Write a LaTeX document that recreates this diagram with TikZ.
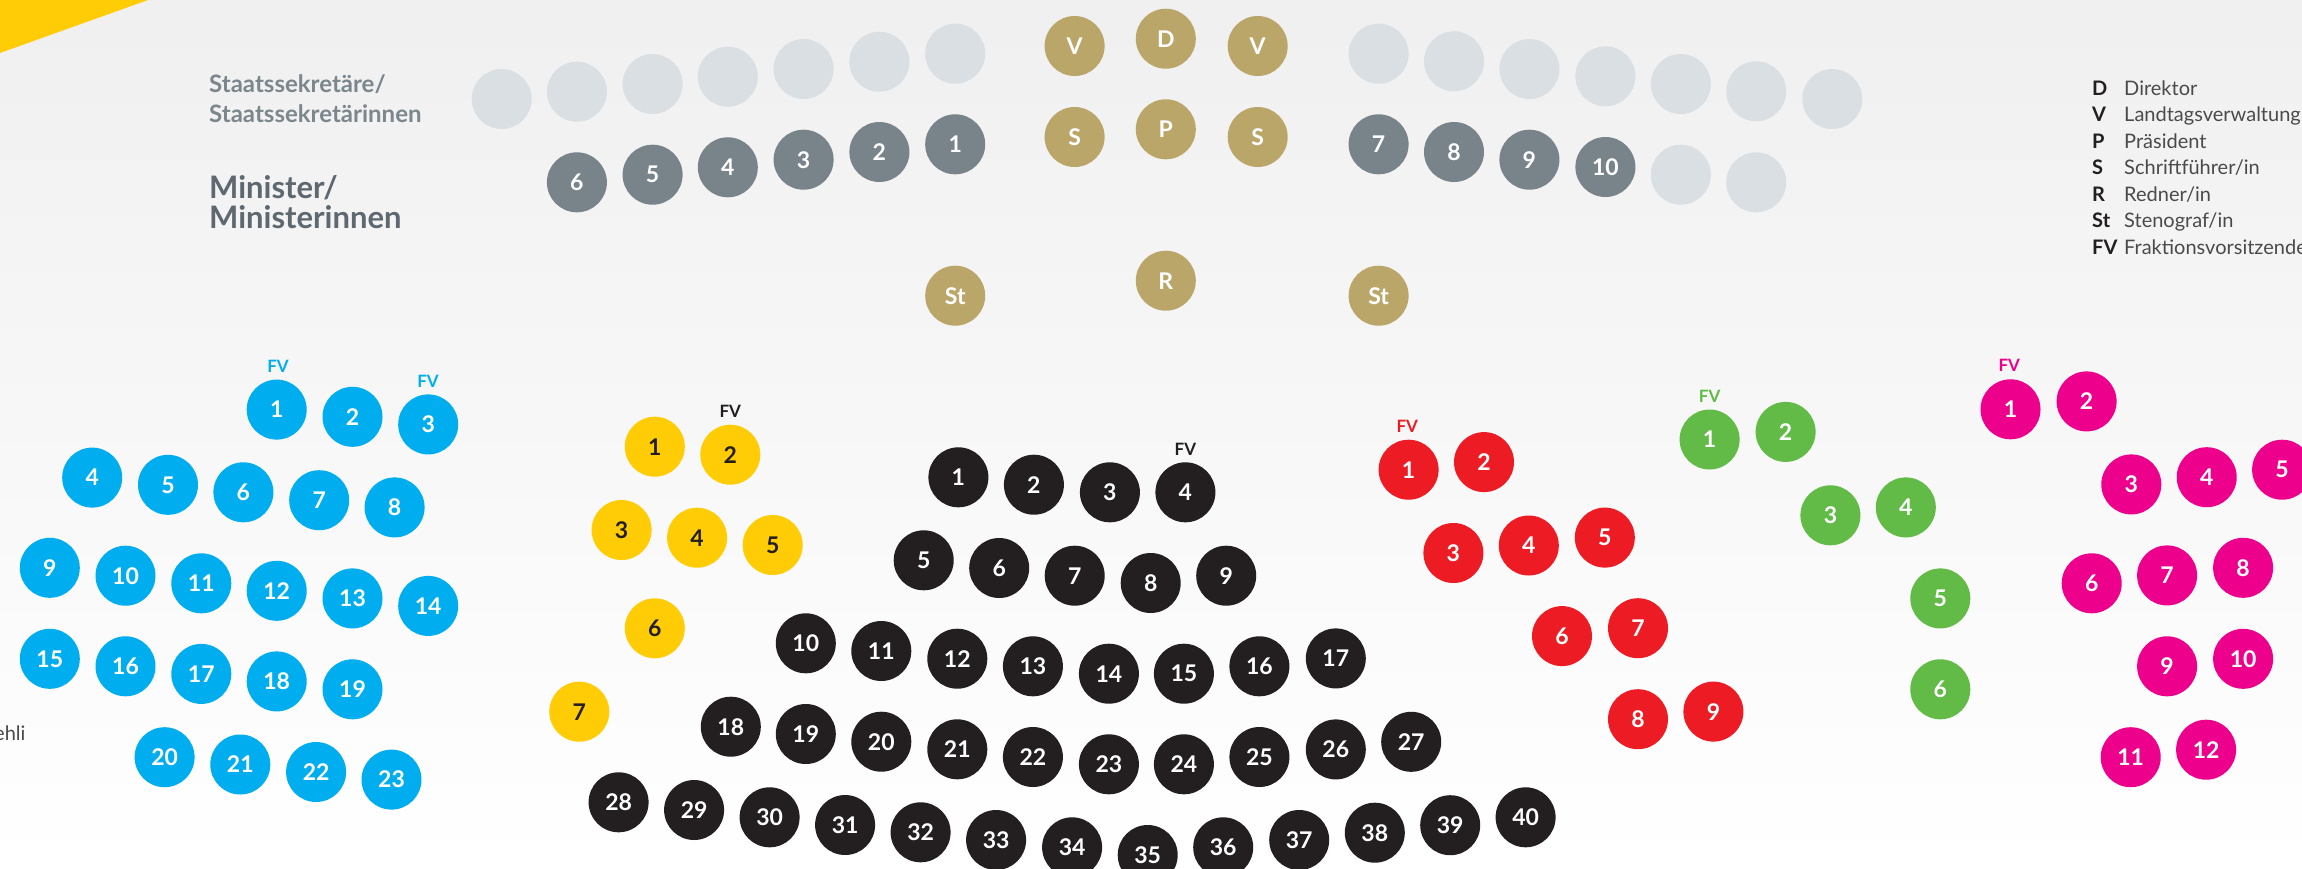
\documentclass[tikz,border=0pt]{standalone}
\usepackage{fontspec}
\setmainfont{Lato}
\definecolor{cblue}{HTML}{00AEEF}
\definecolor{cyel}{HTML}{FFCC05}
\definecolor{cblk}{HTML}{231F20}
\definecolor{cred}{HTML}{ED1C24}
\definecolor{cgrn}{HTML}{62BB46}
\definecolor{cmag}{HTML}{EC008C}
\definecolor{cgold}{HTML}{BBA66A}
\definecolor{cmin}{HTML}{78838A}
\definecolor{cempty}{HTML}{D9DFE2}
\definecolor{labgray}{HTML}{7B868D}
\definecolor{labdark}{HTML}{5D6870}
\definecolor{legtxt}{HTML}{4A4A4A}
\tikzset{
  seat/.style={circle, minimum size=60pt, inner sep=0pt, text=white, font=\bfseries\fontsize{23}{23}\selectfont},
  fvlab/.style={font=\bfseries\fontsize{17}{17}\selectfont, inner sep=0pt},
  legkey/.style={anchor=base west, inner sep=0pt, font=\bfseries\fontsize{20}{20}\selectfont, text=cblk},
  legdesc/.style={anchor=base west, inner sep=0pt, font=\fontsize{20}{20}\selectfont, text=legtxt},
  staatlab/.style={anchor=base west, inner sep=0pt, text=labgray, font=\bfseries\fontsize{24}{24}\selectfont},
  minlab/.style={anchor=base west, inner sep=0pt, text=labdark, font=\bfseries\fontsize{31}{31}\selectfont},
}
\begin{document}
\begin{tikzpicture}[x=1pt,y=-1pt]
\useasboundingbox (0,0) rectangle (2302,868);
\clip (0,0) rectangle (2302,868);
\shade[top color=black!6!white, bottom color=white] (0,0) rectangle (2302,868);
\fill[cyel] (0,0) -- (148,0) -- (0,53) -- cycle;
% labels
\node[staatlab] (lstaat1) at (209,92) {Staatssekretäre/};
\node[staatlab] (lstaat2) at (209,122.5) {Staatssekretärinnen};
\node[minlab] (lmin1) at (209,198) {Minister/};
\node[minlab] (lmin2) at (209,228.5) {Ministerinnen};
\node[anchor=base west, inner sep=0pt, text=legtxt, font=\fontsize{20}{20}\selectfont] (cut) at (-6,740) {ehli};
% top empty row
\foreach \i/\x/\y in {1/501.7/99,2/576.9/91.7,3/652.6/84,4/727.8/76.7,5/803.6/69,6/879.4/61.7,7/955.2/53.7,
  8/1378.6/53.7,9/1454/61.3,10/1529.4/69,11/1605.4/76.3,12/1680.8/84,13/1756.2/91.3,14/1832.3/99,
  15/1680.8/174.7,16/1756.2/182.3}
  \node[seat, fill=cempty] (e\i) at (\x,\y) {};
% ministers
\foreach \n/\x/\y in {6/576.9/182.3,5/652.6/174.7,4/727.8/167.3,3/803.6/159.7,2/879.4/152,1/955.2/144.3,
  7/1378.6/144.3,8/1454/152,9/1529.4/159.7,10/1605.4/167}
  \node[seat, fill=cmin] (mi\n) at (\x,\y) {\n};
% presidium
\node[seat, fill=cgold] (vl) at (1074.6,46) {V};
\node[seat, fill=cgold] (d) at (1165.8,38.7) {D};
\node[seat, fill=cgold] (vr) at (1257.7,46) {V};
\node[seat, fill=cgold] (sl) at (1074.6,137) {S};
\node[seat, fill=cgold] (p) at (1165.8,129.3) {P};
\node[seat, fill=cgold] (sr) at (1257.7,137) {S};
\node[seat, fill=cgold] (stl) at (955.2,295.7) {St};
\node[seat, fill=cgold] (rr) at (1165.8,280.7) {R};
\node[seat, fill=cgold] (str) at (1378.6,295.7) {St};
% legend
\foreach \i/\k/\t in {0/D/Direktor,1/V/Landtagsverwaltung,2/P/Präsident,3/S/Schriftführer\slash in,4/R/Redner\slash in,5/St/Stenograf\slash in,6/FV/Fraktionsvorsitzende}{
  \node[legkey] (lk\i) at (2092,{95+26.5*\i}) {\k};
  \node[legdesc] (ld\i) at (2124,{95+26.5*\i}) {\t};
}
% blue
\foreach \n/\x/\y in {1/276.7/409.6,2/352.5/416.8,3/428.2/424.4,4/92.2/477.6,5/168/484.8,6/243.4/492.3,7/319.2/500.2,8/394.6/507.4,9/49.8/567.8,10/125.5/575.7,11/201.3/583.3,12/276.7/590.8,13/352.5/598.4,14/428.2/605.9,15/49.8/658.8,16/125.5/666.3,17/201.3/673.9,18/276.7/681.4,19/352.5/689.3,20/164.6/757.2,21/240.3/764.5,22/316.1/772,23/391.5/779.6}
  \node[seat, fill=cblue] (b\n) at (\x,\y) {\n};
\node[fvlab, text=cblue] (bfv1) at (278,366) {FV};
\node[fvlab, text=cblue] (bfv3) at (428,381.5) {FV};
% yellow
\foreach \n/\x/\y in {1/654.8/446.7,2/730.3/454.7,3/621.6/530,4/697.1/537.7,5/772.7/545,6/654.8/628.3,7/579.3/711.7}
  \node[seat, fill=cyel, text=cblk] (y\n) at (\x,\y) {\n};
\node[fvlab, text=cblk] (yfv) at (730.3,411.7) {FV};
% black
\foreach \n/\x/\y in {1/958.4/477.3,2/1033.9/484.7,3/1109.9/492.3,4/1185.4/492.3,
  5/923.7/560.3,6/999.2/568,7/1074.7/575.7,8/1150.7/583,9/1226.2/575.7,
  10/805.8/643.3,11/881.3/651,12/957.3/658.7,13/1032.9/666.3,14/1108.9/673.7,15/1183.9/673.7,16/1259.4/666.3,17/1335.8/658.4,
  18/730.8/726.7,19/805.8/734,20/881.3/741.7,21/957.3/749.3,22/1032.9/757,23/1108.9/764.3,24/1183.9/764.3,25/1259.4/757,26/1335.8/749.4,27/1411.2/741.8,
  28/618.6/802.3,29/694.1/810,30/769.6/817.3,31/845.1/825,32/920.6/832.3,33/996.1/840,34/1072.1/847.3,35/1147.7/855,36/1223.2/847.3,37/1299.2/840,38/1374.8/832.7,39/1450.2/825.2,40/1525.6/817.3}
  \node[seat, fill=cblk] (k\n) at (\x,\y) {\n};
\node[fvlab, text=cblk] (kfv) at (1185.4,449.3) {FV};
% red
\foreach \n/\x/\y in {1/1408.6/469.7,2/1484/462.1,3/1453.4/553,4/1528.8/545.5,5/1604.8/537.6,6/1562/636.1,7/1638/628.2,8/1638/719.2,9/1713.4/711.6}
  \node[seat, fill=cred] (r\n) at (\x,\y) {\n};
\node[fvlab, text=cred] (rfv) at (1407.3,426.1) {FV};
% green
\foreach \n/\x/\y in {1/1709.6/439.5,2/1785.6/431.9,3/1830.4/515.3,4/1905.8/507.4,5/1940.3/598.4,6/1940.3/689.3}
  \node[seat, fill=cgrn] (g\n) at (\x,\y) {\n};
\node[fvlab, text=cgrn] (gfv) at (1709.6,396.2) {FV};
% magenta
\foreach \n/\x/\y in {1/2010.5/409.3,2/2086.6/401.4,3/2131.3/484.4,4/2206.7/477.2,5/2282.1/469.7,6/2091.7/583.3,7/2167.1/575.4,8/2243.1/567.8,9/2167.1/666.3,10/2243.1/658.8,11/2130.7/757.2,12/2206.1/749.7}
  \node[seat, fill=cmag] (m\n) at (\x,\y) {\n};
\node[fvlab, text=cmag] (mfv) at (2009.3,365.3) {FV};
\end{tikzpicture}
\end{document}
